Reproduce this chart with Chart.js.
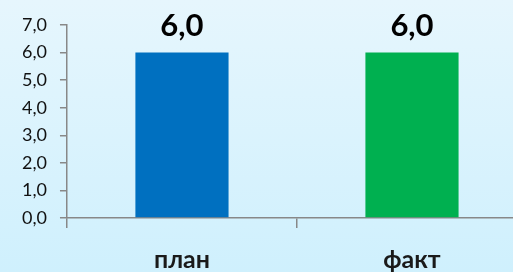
<!DOCTYPE html>
<html>
<head>
<meta charset="utf-8">
<script src="https://cdn.jsdelivr.net/npm/chart.js@4"></script>
<style>
  html, body { margin: 0; padding: 0; }
  body {
    width: 513px; height: 272px; overflow: hidden; position: relative;
    background: linear-gradient(to bottom, #e6f6fd 0%, #cff0fd 100%);
  }
  #wrap { position: absolute; left: 0; top: 0; width: 527px; height: 292px; }
</style>
</head>
<body>
<div id="wrap"><canvas id="chart"></canvas></div>
<script>
// data
const categories = ["план", "факт"];
const values = [6.0, 6.0];
const barColors = ["#0070C0", "#00B050"];
const yTicks = [0, 1, 2, 3, 4, 5, 6, 7];

const fmt = v => v.toFixed(1).replace(".", ",");

// value labels above bars
const valueLabels = {
  id: "valueLabels",
  afterDatasetsDraw(chart) {
    const ctx = chart.ctx;
    const meta = chart.getDatasetMeta(0);
    ctx.save();
    ctx.font = "bold 31px Lato";
    ctx.fillStyle = "#000";
    ctx.textAlign = "center";
    ctx.textBaseline = "alphabetic";
    meta.data.forEach((bar, i) => {
      ctx.fillText(fmt(values[i]), bar.x, bar.y - 17);
    });
    ctx.restore();
  }
};

new Chart(document.getElementById("chart"), {
  type: "bar",
  data: {
    labels: categories,
    datasets: [{
      data: values,
      backgroundColor: barColors,
      borderWidth: 0,
      barPercentage: 0.405,
      categoryPercentage: 1
    }]
  },
  options: {
    responsive: true,
    maintainAspectRatio: false,
    animation: false,
    layout: { padding: { left: 9, top: 25, right: 0, bottom: 0 } },
    plugins: { legend: { display: false }, tooltip: { enabled: false } },
    scales: {
      y: {
        min: 0, max: 7,
        afterBuildTicks: s => { s.ticks = yTicks.map(v => ({ value: v })); },
        ticks: {
          callback: v => fmt(v),
          color: "#111",
          font: { family: "Lato", size: 18 },
          padding: 13
        },
        grid: { drawOnChartArea: false, drawTicks: true, tickLength: 7, color: "#888", lineWidth: 1.5 },
        border: { color: "#888", width: 1.5 }
      },
      x: {
        ticks: {
          color: "#1a1a1a",
          font: { family: "Lato", size: 25, weight: "bold", lineHeight: 1 },
          padding: 19.5
        },
        grid: { drawOnChartArea: false, drawTicks: true, tickLength: 10, color: "#888", lineWidth: 1.5 },
        border: { color: "#888", width: 1.5 }
      }
    }
  },
  plugins: [valueLabels]
});
</script>
</body>
</html>
